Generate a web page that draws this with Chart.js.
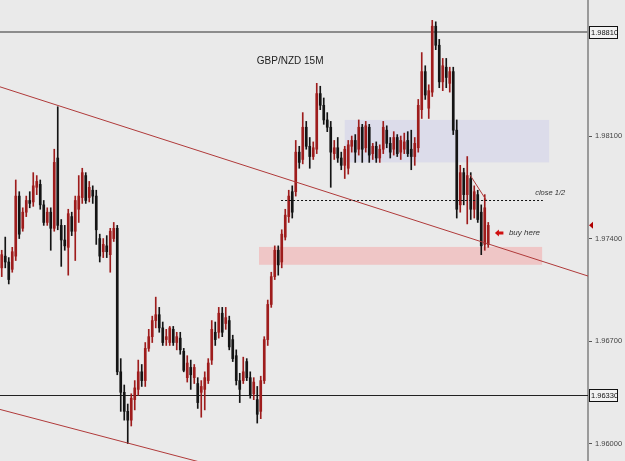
<!DOCTYPE html>
<html>
<head>
<meta charset="utf-8">
<script src="https://cdn.jsdelivr.net/npm/chart.js@4.4.0/dist/chart.umd.min.js"></script>
<style>
  html, body { margin: 0; padding: 0; background: #eaeaea; }
  #wrap { width: 625px; height: 461px; }
</style>
</head>
<body>
<div id="wrap"><canvas id="chart"></canvas></div>
<script>
// GBP/NZD 15M candles (left to right)
const opens = [
  1.9720, 1.9728, 1.9724, 1.9719, 1.9728, 1.9769, 1.9747, 1.9758, 1.9766, 1.9765,
  1.9775, 1.9777, 1.9763, 1.9751, 1.9758, 1.9747, 1.9795, 1.9749, 1.9739, 1.9734,
  1.9755, 1.9745, 1.9760, 1.9768, 1.9783, 1.9768, 1.9773, 1.9769, 1.9740, 1.9731,
  1.9735, 1.9729, 1.9740, 1.9747, 1.9649, 1.9635, 1.9622, 1.9616, 1.9630, 1.9637,
  1.9649, 1.9643, 1.9665, 1.9673, 1.9684, 1.9688, 1.9679, 1.9671, 1.9669, 1.9678,
  1.9669, 1.9672, 1.9663, 1.9645, 1.9652, 1.9645, 1.9641, 1.9635, 1.9637, 1.9643,
  1.9657, 1.9676, 1.9676, 1.9689, 1.9682, 1.9684, 1.9671, 1.9660, 1.9643, 1.9643,
  1.9656, 1.9645, 1.9634, 1.9630, 1.9622, 1.9643, 1.9671, 1.9695, 1.9714, 1.9732,
  1.9724, 1.9741, 1.9755, 1.9772, 1.9772, 1.9799, 1.9794, 1.9816, 1.9803, 1.9796,
  1.9801, 1.9839, 1.9831, 1.9821, 1.9816, 1.9798, 1.9802, 1.9795, 1.9790, 1.9788,
  1.9803, 1.9807, 1.9801, 1.9816, 1.9802, 1.9816, 1.9798, 1.9803, 1.9795, 1.9801,
  1.9814, 1.9805, 1.9801, 1.9809, 1.9799, 1.9801, 1.9807, 1.9801, 1.9796, 1.9802,
  1.9828, 1.9854, 1.9829, 1.9840, 1.9885, 1.9872, 1.9847, 1.9857, 1.9846, 1.9854,
  1.9814, 1.9763, 1.9785, 1.9770, 1.9781, 1.9760, 1.9770, 1.9758, 1.9736, 1.9736
];
const highs = [
  1.9732, 1.9741, 1.9727, 1.9734, 1.9780, 1.9772, 1.9761, 1.9769, 1.9772, 1.9785,
  1.9783, 1.9780, 1.9766, 1.9761, 1.9761, 1.9801, 1.9830, 1.9753, 1.9749, 1.9760,
  1.9758, 1.9769, 1.9783, 1.9788, 1.9785, 1.9779, 1.9776, 1.9773, 1.9743, 1.9740,
  1.9742, 1.9747, 1.9751, 1.9749, 1.9658, 1.9640, 1.9627, 1.9634, 1.9643, 1.9657,
  1.9654, 1.9669, 1.9678, 1.9687, 1.9700, 1.9693, 1.9683, 1.9678, 1.9680, 1.9680,
  1.9676, 1.9676, 1.9665, 1.9660, 1.9657, 1.9654, 1.9645, 1.9643, 1.9649, 1.9658,
  1.9684, 1.9683, 1.9693, 1.9693, 1.9693, 1.9687, 1.9674, 1.9664, 1.9648, 1.9659,
  1.9658, 1.9649, 1.9645, 1.9639, 1.9646, 1.9673, 1.9698, 1.9717, 1.9735, 1.9735,
  1.9746, 1.9760, 1.9773, 1.9776, 1.9807, 1.9803, 1.9826, 1.9820, 1.9809, 1.9806,
  1.9846, 1.9844, 1.9836, 1.9826, 1.9820, 1.9807, 1.9809, 1.9799, 1.9803, 1.9807,
  1.9810, 1.9811, 1.9821, 1.9818, 1.9820, 1.9818, 1.9805, 1.9806, 1.9804, 1.9820,
  1.9817, 1.9809, 1.9813, 1.9811, 1.9810, 1.9812, 1.9813, 1.9814, 1.9809, 1.9835,
  1.9867, 1.9858, 1.9845, 1.9889, 1.9888, 1.9876, 1.9863, 1.9863, 1.9857, 1.9857,
  1.9821, 1.9790, 1.9788, 1.9796, 1.9785, 1.9776, 1.9773, 1.9763, 1.9770, 1.9751
];
const lows = [
  1.9714, 1.9720, 1.9709, 1.9717, 1.9725, 1.9740, 1.9745, 1.9755, 1.9761, 1.9762,
  1.9770, 1.9760, 1.9749, 1.9749, 1.9732, 1.9745, 1.9746, 1.9721, 1.9732, 1.9715,
  1.9742, 1.9725, 1.9751, 1.9764, 1.9764, 1.9765, 1.9764, 1.9736, 1.9724, 1.9727,
  1.9727, 1.9717, 1.9738, 1.9647, 1.9622, 1.9616, 1.9600, 1.9612, 1.9623, 1.9633,
  1.9639, 1.9639, 1.9663, 1.9669, 1.9679, 1.9676, 1.9667, 1.9667, 1.9667, 1.9667,
  1.9664, 1.9661, 1.9649, 1.9642, 1.9637, 1.9641, 1.9624, 1.9618, 1.9623, 1.9641,
  1.9654, 1.9667, 1.9672, 1.9673, 1.9678, 1.9664, 1.9656, 1.9640, 1.9628, 1.9641,
  1.9643, 1.9631, 1.9630, 1.9614, 1.9617, 1.9641, 1.9667, 1.9693, 1.9712, 1.9715,
  1.9720, 1.9739, 1.9751, 1.9754, 1.9769, 1.9788, 1.9791, 1.9801, 1.9788, 1.9794,
  1.9798, 1.9828, 1.9818, 1.9813, 1.9775, 1.9794, 1.9792, 1.9787, 1.9781, 1.9784,
  1.9799, 1.9792, 1.9797, 1.9792, 1.9799, 1.9792, 1.9794, 1.9792, 1.9792, 1.9798,
  1.9802, 1.9795, 1.9797, 1.9796, 1.9794, 1.9798, 1.9796, 1.9787, 1.9790, 1.9799,
  1.9822, 1.9835, 1.9822, 1.9837, 1.9869, 1.9843, 1.9841, 1.9843, 1.9840, 1.9811,
  1.9754, 1.9758, 1.9763, 1.9750, 1.9753, 1.9754, 1.9751, 1.9729, 1.9732, 1.9734
];
const closes = [
  1.9729, 1.9724, 1.9712, 1.9731, 1.9769, 1.9743, 1.9758, 1.9766, 1.9764, 1.9776,
  1.9779, 1.9763, 1.9751, 1.9758, 1.9747, 1.9792, 1.9749, 1.9739, 1.9735, 1.9757,
  1.9745, 1.9766, 1.9769, 1.9785, 1.9766, 1.9775, 1.9769, 1.9746, 1.9728, 1.9736,
  1.9731, 1.9745, 1.9747, 1.9649, 1.9635, 1.9622, 1.9616, 1.9631, 1.9638, 1.9649,
  1.9643, 1.9665, 1.9673, 1.9684, 1.9688, 1.9679, 1.9669, 1.9673, 1.9679, 1.9669,
  1.9673, 1.9664, 1.9650, 1.9655, 1.9647, 1.9652, 1.9628, 1.9639, 1.9645, 1.9655,
  1.9678, 1.9671, 1.9689, 1.9676, 1.9686, 1.9666, 1.9658, 1.9643, 1.9637, 1.9649,
  1.9645, 1.9633, 1.9642, 1.9620, 1.9643, 1.9671, 1.9695, 1.9714, 1.9732, 1.9722,
  1.9743, 1.9756, 1.9769, 1.9758, 1.9799, 1.9792, 1.9816, 1.9803, 1.9796, 1.9802,
  1.9839, 1.9831, 1.9821, 1.9816, 1.9799, 1.9802, 1.9795, 1.9790, 1.9801, 1.9804,
  1.9807, 1.9799, 1.9816, 1.9801, 1.9817, 1.9797, 1.9803, 1.9795, 1.9801, 1.9816,
  1.9805, 1.9799, 1.9809, 1.9798, 1.9807, 1.9806, 1.9798, 1.9796, 1.9805, 1.9831,
  1.9854, 1.9838, 1.9841, 1.9885, 1.9872, 1.9847, 1.9858, 1.9850, 1.9854, 1.9814,
  1.9760, 1.9785, 1.9770, 1.9783, 1.9760, 1.9772, 1.9753, 1.9735, 1.9761, 1.9749
];

const slotCount = 168;            // bar slots across the window, empty on the right
const priceMin = 1.95881;
const priceMax = 1.99029;
const tickPrices = [1.96000, 1.96700, 1.97400, 1.98100];
const levelPrices = [1.98810, 1.96330];

// drawn objects, in [bar index, price]
const trendLines = [
  [[-0.5, 1.98436], [167.5, 1.97144]],
  [[-0.5, 1.96233], [56.6, 1.95874]],
  [[133.8, 1.97834], [138.4, 1.97663]]
];
const zones = [
  { from: 98, to: 156.4, top: 1.9821, bottom: 1.9792, fill: '#dcdcea' },
  { from: 73.5, to: 154.4, top: 1.97343, bottom: 1.97221, fill: '#efc6c6' }
];
const closeLine = { from: 79.8, to: 154.6, price: 1.97663 };

const labels = Array.from({ length: slotCount }, (_, i) => i);
const upColor = '#9e1c1c';
const downColor = '#141414';
const colors = opens.map((o, i) => closes[i] >= o ? upColor : downColor);
const wicks = lows.map((l, i) => [l, highs[i]]);
const bodies = opens.map((o, i) => [o, closes[i]]);

const overlay = {
  id: 'overlay',
  beforeDraw(chart) {
    const ctx = chart.ctx;
    ctx.save();
    ctx.fillStyle = '#eaeaea';
    ctx.fillRect(0, 0, chart.width, chart.height);
    ctx.restore();
  },
  beforeDatasetsDraw(chart) {
    const { ctx, chartArea: a, scales: { x, y } } = chart;
    ctx.save();
    zones.forEach(z => {
      const x0 = x.getPixelForValue(z.from), x1 = x.getPixelForValue(z.to);
      const y0 = y.getPixelForValue(z.top), y1 = y.getPixelForValue(z.bottom);
      ctx.fillStyle = z.fill;
      ctx.fillRect(x0, y0, x1 - x0, y1 - y0);
    });
    // horizontal levels
    const yTop = Math.round(y.getPixelForValue(levelPrices[0]));
    ctx.fillStyle = '#8c8c8c';
    ctx.fillRect(a.left, yTop - 1, a.right - a.left, 2);
    const yBot = Math.round(y.getPixelForValue(levelPrices[1]));
    ctx.fillStyle = '#222';
    ctx.fillRect(a.left, yBot, a.right - a.left, 1);
    ctx.restore();
  },
  afterDatasetsDraw(chart) {
    const { ctx, chartArea: a, scales: { x, y } } = chart;
    ctx.save();
    ctx.beginPath();
    ctx.rect(a.left, a.top, a.right - a.left, a.bottom - a.top);
    ctx.clip();

    ctx.strokeStyle = '#b03a3a';
    ctx.lineWidth = 1;
    trendLines.forEach(([p, q]) => {
      ctx.beginPath();
      ctx.moveTo(x.getPixelForValue(p[0]), y.getPixelForValue(p[1]));
      ctx.lineTo(x.getPixelForValue(q[0]), y.getPixelForValue(q[1]));
      ctx.stroke();
    });

    // close 1/2 dotted line
    const cy = Math.round(y.getPixelForValue(closeLine.price)) + 0.5;
    ctx.strokeStyle = '#111';
    ctx.setLineDash([2, 2]);
    ctx.beginPath();
    ctx.moveTo(x.getPixelForValue(closeLine.from), cy);
    ctx.lineTo(x.getPixelForValue(closeLine.to), cy);
    ctx.stroke();
    ctx.setLineDash([]);

    // texts
    ctx.fillStyle = '#222';
    ctx.textBaseline = 'middle';
    ctx.font = '10px "Liberation Sans", Arial, sans-serif';
    ctx.textAlign = 'center';
    ctx.fillText('GBP/NZD 15M', x.getPixelForValue(82.4), y.getPixelForValue(1.98613));
    ctx.textAlign = 'left';
    ctx.font = 'italic 7.5px "Liberation Sans", Arial, sans-serif';
    ctx.fillStyle = '#333';
    ctx.fillText('close 1/2', x.getPixelForValue(152.4), y.getPixelForValue(1.97711));
    ctx.font = 'italic 8px "Liberation Sans", Arial, sans-serif';
    ctx.fillText('buy here', x.getPixelForValue(144.9), y.getPixelForValue(1.97438));

    // red arrow pointing left
    const ax = x.getPixelForValue(140.9), ay = y.getPixelForValue(1.97438);
    ctx.fillStyle = '#d01010';
    ctx.beginPath();
    ctx.moveTo(ax, ay);
    ctx.lineTo(ax + 4, ay - 3.5);
    ctx.lineTo(ax + 4, ay - 1.5);
    ctx.lineTo(ax + 8.5, ay - 1.5);
    ctx.lineTo(ax + 8.5, ay + 1.5);
    ctx.lineTo(ax + 4, ay + 1.5);
    ctx.lineTo(ax + 4, ay + 3.5);
    ctx.closePath();
    ctx.fill();
    ctx.restore();
  },
  afterDraw(chart) {
    const { ctx, chartArea: a, scales: { y } } = chart;
    ctx.save();
    ctx.font = '7.5px "Liberation Sans", Arial, sans-serif';
    ctx.textBaseline = 'middle';
    ctx.textAlign = 'left';
    levelPrices.forEach(p => {
      const py = Math.round(y.getPixelForValue(p));
      ctx.fillStyle = '#f2f2f2';
      ctx.fillRect(a.right + 1, py - 6, 28, 12);
      ctx.strokeStyle = '#111';
      ctx.lineWidth = 1;
      ctx.strokeRect(a.right + 1.5, py - 5.5, 28, 12);
      ctx.fillStyle = '#111';
      ctx.fillText(p.toFixed(5), a.right + 3, py + 0.5);
    });
    // last price marker
    const ly = y.getPixelForValue(closes[closes.length - 1]);
    ctx.fillStyle = '#b00000';
    ctx.beginPath();
    ctx.moveTo(a.right + 1, ly);
    ctx.lineTo(a.right + 5, ly - 3.5);
    ctx.lineTo(a.right + 5, ly + 3.5);
    ctx.closePath();
    ctx.fill();
    ctx.restore();
  }
};

new Chart(document.getElementById('chart'), {
  type: 'bar',
  data: {
    labels: labels,
    datasets: [
      { data: wicks, backgroundColor: colors, barThickness: 1, grouped: false, order: 2 },
      { data: bodies, backgroundColor: colors, barThickness: 2, grouped: false, minBarLength: 1, order: 1 }
    ]
  },
  options: {
    responsive: true,
    maintainAspectRatio: false,
    animation: false,
    layout: { padding: 0 },
    plugins: { legend: { display: false }, tooltip: { enabled: false } },
    scales: {
      x: { display: false },
      y: {
        position: 'right',
        min: priceMin,
        max: priceMax,
        afterBuildTicks: s => { s.ticks = tickPrices.map(v => ({ value: v })); },
        afterFit: s => { s.width = 37; s.paddingTop = 0; s.paddingBottom = 0; },
        ticks: {
          callback: v => Number(v).toFixed(5),
          color: '#444',
          padding: 3,
          font: { size: 7.5, family: '"Liberation Sans", Arial, sans-serif' }
        },
        grid: { drawOnChartArea: false, drawTicks: true, tickLength: 4, tickColor: '#555' },
        border: { color: '#9a9a9a', width: 2 }
      }
    }
  },
  plugins: [overlay]
});
</script>
</body>
</html>
